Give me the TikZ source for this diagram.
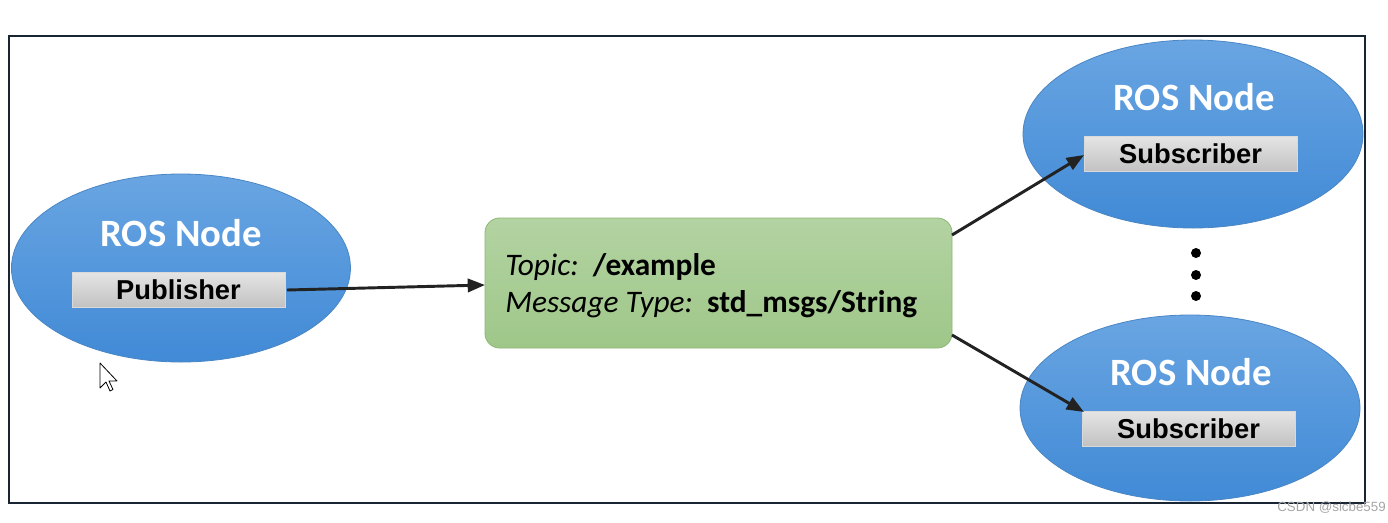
\documentclass[tikz,border=0pt]{standalone}
\usepackage{fontspec}
\setmainfont{Carlito}
\newfontfamily\arialf{Liberation Sans}
\usetikzlibrary{shapes.geometric,arrows.meta}
\definecolor{blueT}{HTML}{69A5E2}
\definecolor{blueB}{HTML}{418AD6}
\definecolor{blueE}{HTML}{4A86C4}
\definecolor{greenT}{HTML}{B3D3A2}
\definecolor{greenB}{HTML}{9FC789}
\definecolor{greenE}{HTML}{8DB874}
\definecolor{boxG}{HTML}{D2D2D2}
\definecolor{frameC}{HTML}{1A2533}
\definecolor{arrC}{HTML}{222222}
\tikzset{
  rosnode/.style={ellipse, draw=blueE, line width=0.6pt, top color=blueT, bottom color=blueB, inner sep=0pt},
  rostitle/.style={text=white, font=\fontsize{29}{29}\selectfont\bfseries, inner sep=0pt},
  rolebox/.style={draw=white!70!gray, line width=0.5pt, top color=boxG!60!white, bottom color=boxG!92!black, minimum width=213*0.75pt, minimum height=35*0.75pt, inner sep=0pt, font=\arialf\bfseries\fontsize{20.5}{20.5}\selectfont},
  topicbox/.style={rounded corners=11pt, draw=greenE, line width=0.6pt, top color=greenT, bottom color=greenB, minimum width=467*0.75pt, minimum height=130*0.75pt, inner sep=0pt},
  topictext/.style={anchor=base west, inner sep=0pt, font=\fontsize{23.5}{23.5}\selectfont},
  conn/.style={-{Triangle[length=13pt,width=10pt]}, draw=arrC, line width=2.2pt},
  dotstyle/.style={circle, fill=black, minimum size=7.5pt, inner sep=0pt}
}
\begin{document}
\begin{tikzpicture}[x=0.75pt,y=-0.75pt]
\useasboundingbox (0,0) rectangle (1388,522);
\fill[white] (0,0) rectangle (1388,522);
\draw[frameC, line width=2pt] (9,36) rectangle (1365,503);

% publisher
\node[rosnode, minimum width=339*0.75pt, minimum height=188*0.75pt] (pub) at (181,268) {};
\node[rostitle] (pubt) at (181,233) {ROS Node};
\node[rolebox] (pubb) at (178.5,290) {Publisher};

% topic
\node[topicbox] (topic) at (718.5,283) {};
\node[topictext] (t1) at (505,275) {\textit{Topic:}\ \ \textbf{/example}};
\node[topictext] (t2) at (505,312) {\textit{Message Type:}\ \ \textbf{std\_msgs/String}};

% subscriber 1
\node[rosnode, minimum width=340*0.75pt, minimum height=188*0.75pt] (sub1) at (1193,134) {};
\node[rostitle] (sub1t) at (1194,97) {ROS Node};
\node[rolebox] (sub1b) at (1190.5,154) {Subscriber};

% subscriber 2
\node[rosnode, minimum width=340*0.75pt, minimum height=186*0.75pt] (sub2) at (1190,408) {};
\node[rostitle] (sub2t) at (1191,372) {ROS Node};
\node[rolebox] (sub2b) at (1188.5,429) {Subscriber};

% dots
\node[dotstyle] (d1) at (1196,253) {};
\node[dotstyle] (d2) at (1196,275) {};
\node[dotstyle] (d3) at (1196,296) {};

% connectors
\coordinate (pa) at (287,290);
\coordinate (ta) at (485,285);
\coordinate (tb) at (952,235);
\coordinate (tc) at (952,335);
\coordinate (sa) at (1084,155);
\coordinate (sb) at (1084,412);
\draw[conn] (pa) -- (ta);
\draw[conn] (tb) -- (sa);
\draw[conn] (tc) -- (sb);

% mouse cursor
\draw[black, line width=0.6pt, fill=white, line join=round] (100,363) -- (100,388) -- (106,382) -- (110,391) -- (113,389.5) -- (109,381) -- (117,381) -- cycle;

% watermark
\node[anchor=east, inner sep=0pt, text=gray!70, font=\arialf\fontsize{10}{10}\selectfont] (wm) at (1386,508) {CSDN @sicbe559};
\end{tikzpicture}
\end{document}
